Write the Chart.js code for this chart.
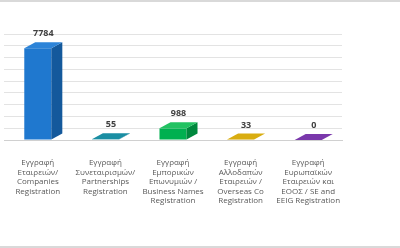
<!DOCTYPE html>
<html><head><meta charset="utf-8">
<script src="https://cdn.jsdelivr.net/npm/chart.js@4/dist/chart.umd.min.js"></script>
<style>
html,body{margin:0;padding:0;background:#fff;}
#wrap{position:relative;width:400px;height:248px;box-sizing:border-box;border-top:2px solid #d9d9d9;border-bottom:2px solid #d9d9d9;}
canvas{display:block;}
</style></head>
<body><div id="wrap"><canvas id="c" width="400" height="244"></canvas></div>
<script>
const categories = [
  ["Εγγραφή","Εταιρειών/","Companies","Registration"],
  ["Εγγραφή","Συνεταιρισμών/","Partnerships","Registration"],
  ["Εγγραφή","Εμπορικών","Επωνυμιών /","Business Names","Registration"],
  ["Εγγραφή","Αλλοδαπών","Εταιρειών /","Overseas Co","Registration"],
  ["Εγγραφή","Ευρωπαϊκών","Εταιρειών και","ΕΟΟΣ / SE and","EEIG Registration"]
];
const values = [7784, 55, 988, 33, 0];
const frontColors = ["#1f78cf","#17869a","#00b050","#d4a600","#7030a0"];
const sideColors  = ["#14599c","#0f6575","#00883d","#a88400","#57257d"];
const topColors   = ["#2d84d8","#1a8ea3","#22c262","#d9ad10","#7a38ab"];

const bar3d = {
  id:'bar3d',
  afterDatasetsDraw(chart){
    const ctx = chart.ctx;
    const meta = chart.getDatasetMeta(0);
    const dx = 11, dy = 6;
    meta.data.forEach((b,i)=>{
      const p = b.getProps(['x','y','base','width'],true);
      const l = p.x - p.width/2, r = p.x + p.width/2;
      ctx.save();
      ctx.fillStyle = sideColors[i];
      ctx.beginPath();
      ctx.moveTo(r,p.y); ctx.lineTo(r+dx,p.y-dy); ctx.lineTo(r+dx,p.base-dy); ctx.lineTo(r,p.base);
      ctx.closePath(); ctx.fill();
      ctx.fillStyle = topColors[i];
      ctx.beginPath();
      ctx.moveTo(l,p.y); ctx.lineTo(l+dx,p.y-dy); ctx.lineTo(r+dx,p.y-dy); ctx.lineTo(r,p.y);
      ctx.closePath(); ctx.fill();
      ctx.fillStyle = '#404040';
      ctx.font = 'bold 9px "Open Sans", sans-serif';
      ctx.textAlign = 'center';
      ctx.textBaseline = 'bottom';
      ctx.fillText(String(values[i]), p.x + dx/2, p.y - dy - 4);
      ctx.restore();
    });
  }
};

new Chart(document.getElementById('c'), {
  type:'bar',
  data:{labels:categories, datasets:[{data:values, backgroundColor:frontColors, barPercentage:0.8, categoryPercentage:0.5}]},
  options:{
    responsive:false, animation:false,
    layout:{padding:{left:4,right:58,top:32,bottom:30}},
    plugins:{legend:{display:false}, tooltip:{enabled:false}},
    scales:{
      x:{grid:{display:false}, border:{color:'#d0d0d0'},
         ticks:{color:'#595959', font:{family:'"Open Sans", sans-serif', size:8, lineHeight:1.2}, maxRotation:0, autoSkip:false, padding:10}},
      y:{min:0, max:9000, ticks:{display:false, stepSize:1000}, border:{display:false},
         grid:{color:'#e3e3e3', drawTicks:false}}
    }
  },
  plugins:[bar3d]
});
</script></body></html>
